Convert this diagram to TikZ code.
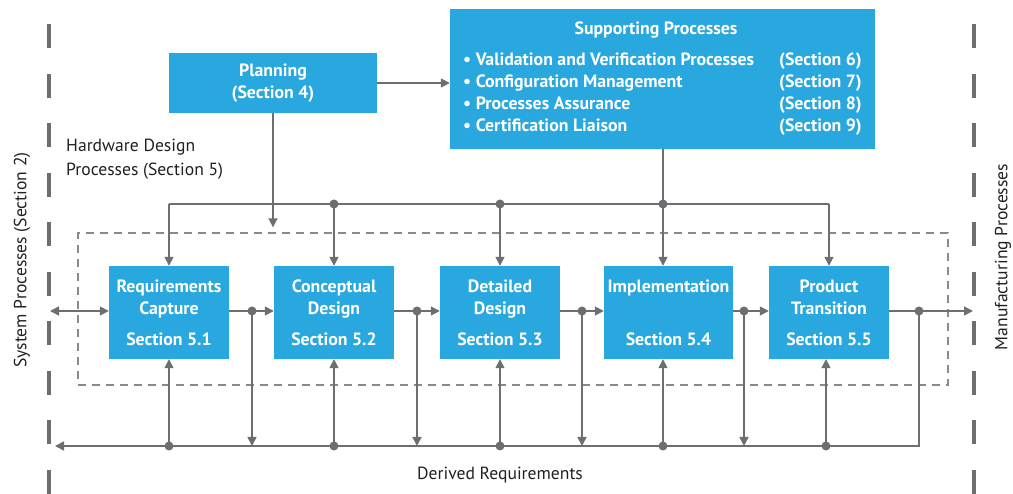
\documentclass[tikz,border=0pt]{standalone}
\usepackage{fontspec}
\setmainfont{PT Sans}
\usetikzlibrary{arrows.meta,calc}
\definecolor{boxblue}{HTML}{29A8DF}
\definecolor{lgray}{HTML}{6D6E71}
\definecolor{dgray}{HTML}{8A8A8A}
\definecolor{txt}{HTML}{231F20}
\tikzset{
  procbox/.style={fill=boxblue, draw=none, text=white, font=\fontsize{17.8}{22}\selectfont\bfseries, align=center, inner sep=0pt},
  conn/.style={draw=lgray, line width=1.6pt},
  arr/.style={conn, -{Triangle[length=9pt,width=9pt]}},
  darr/.style={conn, {Triangle[length=9pt,width=9pt]}-{Triangle[length=9pt,width=9pt]}},
  jdot/.style={circle, fill=lgray, inner sep=0pt, minimum size=9pt},
  lbl/.style={text=txt, font=\fontsize{17.6}{24}\selectfont, inner sep=0pt},
  bigdash/.style={draw=lgray, line width=4pt, dash pattern=on 24pt off 25.5pt},
}
\begin{document}
\begin{tikzpicture}[x=1pt,y=-1pt]
\useasboundingbox (0,0) rectangle (1013,494);
% outer boundaries
\draw[bigdash] (49,24.5) -- (49,494);
\draw[bigdash] (974,24.5) -- (974,494);
% hardware design dashed box
\node[draw=dgray, line width=1.3pt, dash pattern=on 8pt off 6pt, minimum width=870pt, minimum height=152pt, inner sep=0pt] (hw) at (513,309) {};
% top boxes
\node[procbox, minimum width=208pt, minimum height=60pt] (plan) at (273,83) {Planning\\(Section 4)};
\node[procbox, minimum width=425pt, minimum height=140pt, font=\fontsize{17.8}{21}\selectfont\bfseries] (sup) at (662.5,79) {%
  \def\arraystretch{1.06}%
  \begin{tabular}{@{}p{316pt}@{}l@{}}
  \multicolumn{2}{@{}c@{}}{\hspace{-13pt}Supporting Processes}\\[8pt]
  \textbullet\ Validation and Verification Processes & (Section 6)\\
  \textbullet\ Configuration Management & (Section 7)\\
  \textbullet\ Processes Assurance & (Section 8)\\
  \textbullet\ Certification Liaison & (Section 9)
  \end{tabular}};
% process boxes
\node[procbox, minimum width=120pt, minimum height=93pt] (req) at (169,312.5) {Requirements\\Capture\\[9pt]Section 5.1};
\node[procbox, minimum width=120pt, minimum height=93pt] (con) at (334,312.5) {Conceptual\\Design\\[9pt]Section 5.2};
\node[procbox, minimum width=120pt, minimum height=93pt] (det) at (500,312.5) {Detailed\\Design\\[9pt]Section 5.3};
\node[procbox, minimum width=129pt, minimum height=93pt] (imp) at (668.5,312.5) {Implementation\\\mbox{}\\[9pt]Section 5.4};
\node[procbox, minimum width=120pt, minimum height=93pt] (prd) at (829,312.5) {Product\\Transition\\[9pt]Section 5.5};
% labels
\node[lbl, anchor=north west, align=left] (hwl) at (66,139) {Hardware Design\\Processes (Section 5)};
\node[lbl] (drv) at (500,475) {Derived Requirements};
\node[lbl, rotate=90] (sys) at (22,260) {System Processes (Section 2)};
\node[lbl, rotate=90] (mfg) at (1003,257) {Manufacturing Processes};
% helper coordinates
\coordinate (top) at (0,204);
\coordinate (mid) at (0,311);
\coordinate (bot) at (0,446);
\coordinate (ix) at (663,0);
\coordinate (sysL) at (50,311);
\coordinate (mfgR) at (973,311);
\coordinate (botL) at (55,446);
\coordinate (j1) at (252,311);
\coordinate (j2) at (417,311);
\coordinate (j3) at (582,311);
\coordinate (j4) at (744,311);
\coordinate (j5) at (919,311);
% planning connectors
\draw[arr] (plan.east) -- (plan.east -| sup.west);
\draw[arr] (plan.south) -- ($(plan.south |- hw.north)+(0,-5)$);
% top distribution
\draw[conn] (req.north |- top) -- (prd.north |- top);
\draw[arr] (sup.south -| ix) -- (ix |- imp.north);
\draw[arr] (req.north |- top) -- (req.north);
\draw[arr] (con.north |- top) -- (con.north);
\draw[arr] (det.north |- top) -- (det.north);
\draw[arr] (prd.north |- top) -- (prd.north);
\node[jdot] at (con.north |- top) {};
\node[jdot] at (det.north |- top) {};
\node[jdot] at (ix |- top) {};
% middle row
\draw[darr] (sysL) -- (req.west |- mid);
\draw[arr] (req.east |- mid) -- (con.west |- mid);
\draw[arr] (con.east |- mid) -- (det.west |- mid);
\draw[arr] (det.east |- mid) -- (imp.west |- mid);
\draw[arr] (imp.east |- mid) -- (prd.west |- mid);
\draw[arr] (prd.east |- mid) -- (mfgR);
\draw[arr] (j1) -- (j1 |- bot);
\draw[arr] (j2) -- (j2 |- bot);
\draw[arr] (j3) -- (j3 |- bot);
\draw[arr] (j4) -- (j4 |- bot);
\draw[arr] (j5) |- (botL);
\foreach \j in {j1,j2,j3,j4,j5} \node[jdot] at (\j) {};
% bottom feedback
\draw[arr] (req.south |- bot) -- (req.south);
\draw[arr] (con.south |- bot) -- (con.south);
\draw[arr] (det.south |- bot) -- (det.south);
\draw[arr] (ix |- bot) -- (ix |- imp.south);
\draw[arr] ([xshift=-3pt]prd.south |- bot) -- ([xshift=-3pt]prd.south);
\node[jdot] at (req.south |- bot) {};
\node[jdot] at (con.south |- bot) {};
\node[jdot] at (det.south |- bot) {};
\node[jdot] at (ix |- bot) {};
\node[jdot] at ([xshift=-3pt]prd.south |- bot) {};
\end{tikzpicture}
\end{document}
